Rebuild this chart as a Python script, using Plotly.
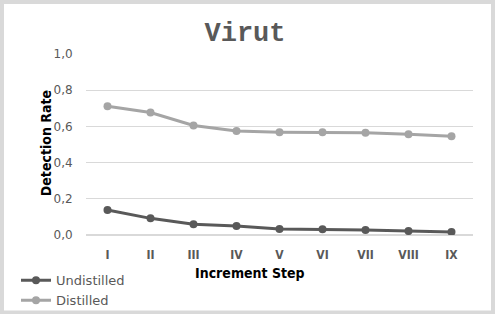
import plotly.graph_objects as go

categories = ["I", "II", "III", "IV", "V", "VI", "VII", "VIII", "IX"]
undistilled = [0.138, 0.092, 0.059, 0.050, 0.033, 0.032, 0.028, 0.022, 0.017]
distilled = [0.711, 0.677, 0.605, 0.574, 0.568, 0.568, 0.565, 0.557, 0.545]
y_ticks = [0.0, 0.2, 0.4, 0.6, 0.8, 1.0]

W, H = 495, 314
L, R, T, B = 86, 473, 54, 234.7

def px(x):
    return (x - L) / (R - L)

def py(y):
    return (B - y) / (B - T)

fig = go.Figure()
fig.add_trace(go.Scatter(x=categories, y=undistilled, name="Undistilled", mode="lines+markers",
                         line=dict(color="#595959", width=3), marker=dict(size=8, color="#595959")))
fig.add_trace(go.Scatter(x=categories, y=distilled, name="Distilled", mode="lines+markers",
                         line=dict(color="#a5a5a5", width=3), marker=dict(size=8, color="#a5a5a5")))

fig.update_layout(
    width=W, height=H,
    margin=dict(l=L, r=W - R, t=T, b=H - B, autoexpand=False),
    paper_bgcolor="white", plot_bgcolor="white",
    separators=",.",
    title=dict(text="<b>Virut</b>", x=245 / W, xref="container", xanchor="center",
               y=1 - 31.5 / H, yref="container", yanchor="middle",
               font=dict(family="Liberation Mono, Courier New, monospace", size=27, color="#595959")),
    xaxis=dict(range=[-0.5, 8.5], showgrid=False, zeroline=False, showline=False,
               ticks="outside", ticklen=9, tickcolor="rgba(0,0,0,0)",
               tickfont=dict(family="DejaVu Sans Condensed, DejaVu Sans", size=12, color="#595959"),
               tickvals=categories, ticktext=["<b>%s</b>" % c for c in categories]),
    yaxis=dict(range=[0, 1.0], tickvals=y_ticks, tickformat=".1f", showgrid=True,
               gridcolor="#d9d9d9", gridwidth=1, zeroline=True, zerolinecolor="#d9d9d9",
               ticks="outside", ticklen=10, tickcolor="rgba(0,0,0,0)",
               tickfont=dict(family="DejaVu Sans", size=12, color="#595959")),
    showlegend=True,
    legend=dict(x=px(16), y=py(265), xanchor="left", yanchor="top", orientation="v",
                bgcolor="rgba(0,0,0,0)", tracegroupgap=0,
                font=dict(family="DejaVu Sans", size=13, color="#595959")),
    annotations=[
        dict(text="<b>Detection Rate</b>", x=px(36), y=py(143), xref="paper", yref="paper",
             showarrow=False, textangle=-90,
             font=dict(family="DejaVu Sans Condensed", size=14, color="black")),
        dict(text="<b>Increment Step</b>", x=px(250), y=py(283), xref="paper", yref="paper",
             showarrow=False,
             font=dict(family="DejaVu Sans Condensed", size=14, color="black")),
    ],
    shapes=[dict(type="rect", xref="paper", yref="paper", x0=px(2), x1=px(W - 2), y0=py(2), y1=py(H - 2),
                 line=dict(color="#d9d9d9", width=4), layer="below")],
)

fig.write_html("out.html", config={"displayModeBar": False},
               post_script="document.body.style.margin='0px';document.body.style.overflow='hidden';")
